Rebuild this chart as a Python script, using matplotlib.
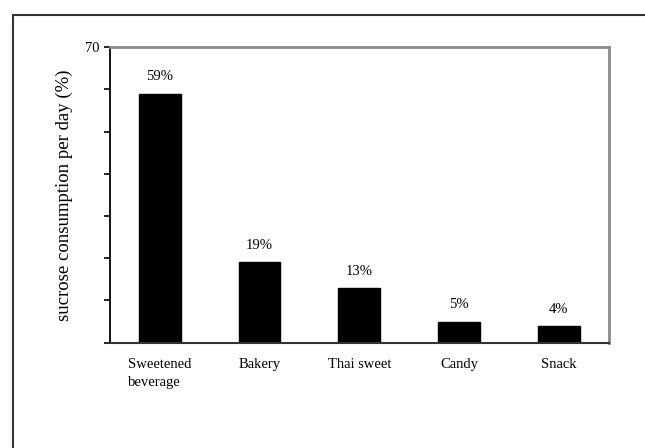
import matplotlib
matplotlib.use('Agg')
import matplotlib.pyplot as plt
from matplotlib.patches import Rectangle

plt.rcParams['font.family'] = ['Liberation Serif', 'DejaVu Serif']

# sucrose sources, share of daily consumption (%)
categories = ['Sweetened\nbeverage', 'Bakery', 'Thai sweet', 'Candy', 'Snack']
shares = [59, 19, 13, 5, 4]
ytick_vals = [0, 10, 20, 30, 40, 50, 60, 70]
ytick_labels = ['', '', '', '', '', '', '', '70']

fig = plt.figure(figsize=(6.45, 4.48), dpi=100)
ax = fig.add_axes([0.1705, 0.235, 0.773, 0.66])

x = list(range(len(categories)))
bars = ax.bar(x, shares, width=0.42, color='black', edgecolor='black')

for b, v in zip(bars, shares):
    ax.annotate('%d%%' % v, (b.get_x() + b.get_width() / 2, v),
                xytext=(0, 9.5), textcoords='offset points',
                ha='center', va='baseline', fontsize=10.5)

ax.set_xlim(-0.5, 4.5)
ax.set_ylim(0, 70)
ax.set_yticks(ytick_vals)
ax.set_yticklabels(ytick_labels, fontsize=10.5)
ax.tick_params(axis='y', direction='out', length=4.5, width=1.2, pad=3)
ax.set_xticks(x)
ax.set_xticklabels(categories, fontsize=10.5, linespacing=1.55,
                   multialignment='left')
ax.tick_params(axis='x', length=0, pad=11)
ax.set_ylabel('sucrose consumption per day (%)', fontsize=13.5, labelpad=9)

ax.spines['left'].set_color('black')
ax.spines['left'].set_linewidth(1.3)
ax.spines['bottom'].set_color('#333333')
ax.spines['bottom'].set_linewidth(1.5)
for side in ['top', 'right']:
    ax.spines[side].set_color('#8a8a8a')
    ax.spines[side].set_linewidth(2.0)

# outer frame, cut off by the image edges on right and bottom
frame = Rectangle((13 / 645, -0.1), 1.2, 1.1 - 15 / 448,
                  transform=fig.transFigure, fill=False,
                  edgecolor='#333333', linewidth=1.5)
fig.patches.append(frame)

fig.savefig('out.png', dpi=100)
